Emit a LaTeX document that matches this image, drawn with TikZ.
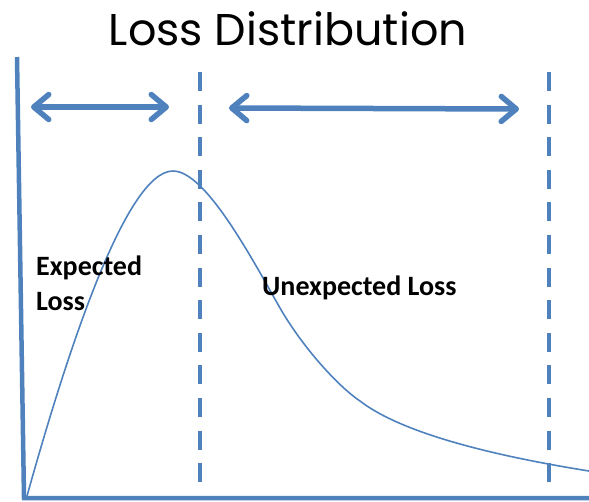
\documentclass[tikz,border=0pt]{standalone}
\usepackage{fontspec}
\usepackage{xcolor}
\usepackage{tikz}
\usetikzlibrary{arrows.meta, positioning}
\newfontfamily\titlefont{Poppins}
\newfontfamily\labelfont{Carlito}
\definecolor{lossblue}{HTML}{4F81BD}

\begin{document}
\begin{tikzpicture}[x=1pt, y=-1pt,
    axis/.style={lossblue, line width=4.5pt},
    bound/.style={lossblue, line width=4.5pt, dash pattern=on 19pt off 13.6pt},
    span/.style={lossblue, line width=5.5pt, line cap=round,
      {Straight Barb[length=15pt, width=25pt, line cap=round, line join=round]}-{Straight Barb[length=15pt, width=25pt, line cap=round, line join=round]}},
    curve/.style={lossblue, line width=1.6pt},
    lbl/.style={font=\labelfont\bfseries\fontsize{28}{35}\selectfont, inner sep=0pt, align=left}]
    \useasboundingbox (0,0) rectangle (589,501);
    % Titre
    \node[font=\titlefont\fontsize{44.5}{50}\selectfont, anchor=base, inner sep=0pt] (title) at (288,45) {Loss Distribution};
    % Axes
    \coordinate (ytop) at (17,57);
    \coordinate (orig) at (24,498);
    \coordinate (xend) at (589,498);
    \draw[axis] (ytop) -- (orig) -- (xend);
    % Bornes
    \foreach \x/\name in {200/q1, 549/q2} {
      \coordinate (\name top) at (\x,72);
      \coordinate (\name bot) at (\x,482);
      \draw[bound] (\name top) -- (\name bot);
    }
    % Fleches
    \coordinate (ea) at (31,107);
    \coordinate (eb) at (169,107);
    \coordinate (ua) at (229,108);
    \coordinate (ub) at (519,109);
    \draw[span] (ea) -- (eb);
    \draw[span] (ua) -- (ub);
    % Densite
    \draw[curve] (27,496) .. controls (65,360) and (125,171) .. (173,171)
      .. controls (205,171) and (250,255) .. (280,308)
      .. controls (300,343) and (335,384) .. (360,401)
      .. controls (395,428) and (470,452) .. (589,471);
    % Textes
    \node[lbl, anchor=base west] (expected) at (36,310) {Expected\\Loss};
    \node[lbl, anchor=base west] (unexpected) at (262,295) {Unexpected Loss};
  \end{tikzpicture}
\end{document}
